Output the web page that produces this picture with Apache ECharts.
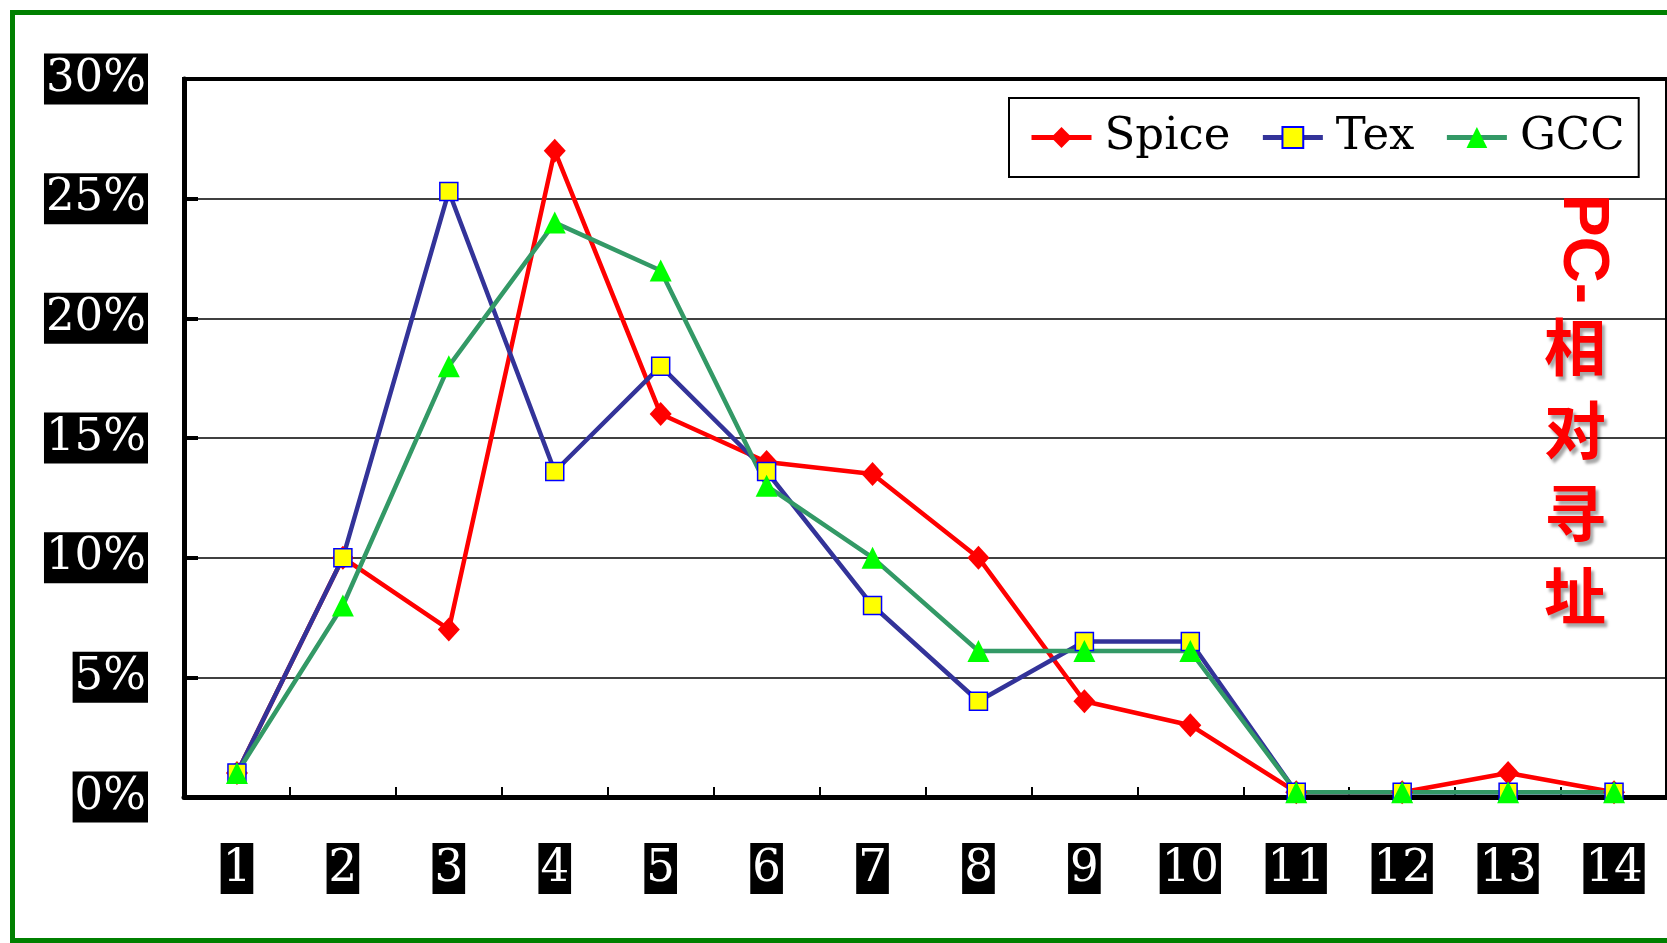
<!DOCTYPE html>
<html>
<head>
<meta charset="utf-8">
<script src="https://cdn.jsdelivr.net/npm/echarts@6/dist/echarts.min.js"></script>
<style>
  html, body { margin: 0; padding: 0; background: #fff; }
  #chart { width: 1667px; height: 943px; }
</style>
</head>
<body>
<div id="chart"></div>
<script>
// categories and values (percent)
const categories = ['1', '2', '3', '4', '5', '6', '7', '8', '9', '10', '11', '12', '13', '14']
const spice = [1, 10, 7, 27, 16, 14, 13.5, 10, 4, 3, 0.2, 0.2, 1, 0.2]
const tex = [1, 10, 25.3, 13.6, 18, 13.6, 8, 4, 6.5, 6.5, 0.2, 0.2, 0.2, 0.2]
const gcc = [1, 8, 18, 24, 22, 13, 10, 6.1, 6.1, 6.1, 0.2, 0.2, 0.2, 0.2]
const yTicks = { min: 0, max: 30, interval: 5 }
const sideTitle = 'PC-'
const sideChars = '相\n对\n寻\n址'

const serif = 'DejaVu Serif'
const labelBox = {
  color: '#fff',
  backgroundColor: '#000',
  fontFamily: serif,
  fontSize: 45,
  lineHeight: 48,
  padding: [2, 2, 1, 2]
}

let chart = echarts.init(document.getElementById('chart'))
let option = {
  animation: false,
  backgroundColor: '#fff',
  grid: {
    left: 184,
    top: 79,
    width: 1488,
    height: 718,
    show: true,
    borderColor: '#000',
    borderWidth: 4
  },
  legend: {
    left: 1009,
    top: 98,
    orient: 'horizontal',
    backgroundColor: '#fff',
    borderColor: '#000',
    borderWidth: 2,
    padding: [17, 14, 17, 20],
    itemWidth: 60,
    itemHeight: 26,
    itemGap: 30,
    lineStyle: { width: 5 },
    textStyle: {
      fontFamily: serif,
      fontSize: 45,
      color: '#000',
      padding: [0, 0, 0, 8]
    },
    data: ['Spice', 'Tex', 'GCC']
  },
  xAxis: {
    type: 'category',
    boundaryGap: true,
    data: categories,
    axisLine: { show: true, lineStyle: { color: '#000', width: 5 } },
    axisTick: { show: true, inside: true, length: 10, lineStyle: { color: '#000', width: 2 } },
    axisLabel: Object.assign({ margin: 46 }, labelBox),
    splitLine: { show: false }
  },
  yAxis: {
    type: 'value',
    min: yTicks.min,
    max: yTicks.max,
    interval: yTicks.interval,
    axisLine: { show: true, lineStyle: { color: '#000', width: 5 } },
    axisTick: { show: true, inside: true, length: 14, lineStyle: { color: '#000', width: 4 } },
    axisLabel: Object.assign({ margin: 36, formatter: '{value}%' }, labelBox),
    splitLine: { show: true, lineStyle: { color: '#000', width: 1.5 } }
  },
  series: [
    {
      name: 'Spice',
      type: 'line',
      data: spice,
      symbol: 'diamond',
      symbolSize: [22, 24],
      lineStyle: { color: '#ff0000', width: 4.5 },
      itemStyle: { color: '#ff0000' }
    },
    {
      name: 'Tex',
      type: 'line',
      data: tex,
      symbol: 'rect',
      symbolSize: 18,
      lineStyle: { color: '#333399', width: 4.5 },
      itemStyle: { color: '#ffff00', borderColor: '#0000ff', borderWidth: 1.5 }
    },
    {
      name: 'GCC',
      type: 'line',
      data: gcc,
      symbol: 'triangle',
      symbolSize: [22, 22],
      lineStyle: { color: '#339966', width: 4.5 },
      itemStyle: { color: '#00ff00' }
    }
  ],
  graphic: [
    {
      type: 'rect',
      silent: true,
      z: 100,
      shape: { x: 12.5, y: 12.5, width: 1680, height: 928 },
      style: { fill: null, stroke: '#008000', lineWidth: 5 }
    },
    {
      type: 'text',
      z: 100,
      x: 1582,
      y: 249,
      rotation: -Math.PI / 2,
      style: {
        text: sideTitle,
        fill: '#ff0000',
        font: 'bold 64px "Liberation Sans"',
        align: 'center',
        verticalAlign: 'middle'
      }
    },
    {
      type: 'text',
      z: 100,
      x: 1575,
      y: 472,
      style: {
        text: sideChars,
        fill: '#ff0000',
        font: 'bold 62px "Noto Sans CJK SC"',
        lineHeight: 83,
        align: 'center',
        verticalAlign: 'middle',
        textShadowColor: 'rgba(0,0,0,0.35)',
        textShadowBlur: 3,
        textShadowOffsetX: 3,
        textShadowOffsetY: 4
      }
    }
  ]
}
chart.setOption(option)
</script>
</body>
</html>
